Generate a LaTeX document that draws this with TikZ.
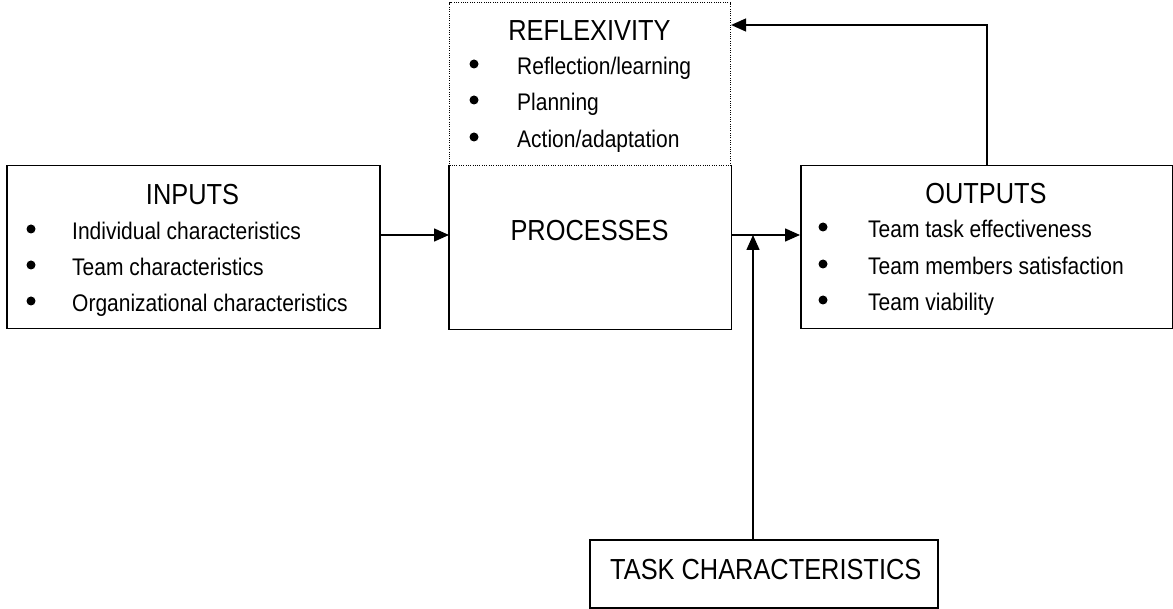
\documentclass[tikz,border=0pt]{standalone}
\usepackage{fontspec}
\setmainfont{Liberation Sans}[FakeStretch=0.875]
\usetikzlibrary{arrows.meta}

\tikzset{
  box/.style={draw, line width=1.5pt, anchor=north west, inner sep=0pt, rectangle},
  openbox/.style={anchor=north west, inner sep=0pt, outer sep=0.75pt, rectangle},
  dotbox/.style={draw, line width=1.1pt, dash pattern=on 1pt off 1.3pt,
                 anchor=north west, inner sep=0pt, rectangle},
  head/.style={font=\fontsize{29}{33}\selectfont, inner sep=0pt, anchor=base},
  itm/.style={font=\fontsize{24}{28}\selectfont, inner sep=0pt, anchor=base west},
  dot/.style={circle, fill, inner sep=0pt, minimum size=9pt},
  arr/.style={line width=1.5pt, -{Triangle[length=15pt,width=13pt]}},
  link/.style={line width=1.5pt}
}

\begin{document}
\begin{tikzpicture}[x=1pt, y=-1pt]
\useasboundingbox[fill=white] (0,0) rectangle (1173,609);

% boxes
\node[box, minimum width=373pt, minimum height=163pt] (in) at (6,165) {};
\node[openbox, minimum width=281pt, minimum height=163pt] (proc) at (449,165) {};
\draw[link] (proc.north west) -- (proc.south west) -- (proc.south east) -- (proc.north east);
\node[dotbox, minimum width=281pt, minimum height=163pt] (refl) at (449,2) {};
\node[box, minimum width=372pt, minimum height=163pt] (out) at (800,165) {};
\node[box, minimum width=348pt, minimum height=68pt] (task) at (589,539) {};

% INPUTS
\node[head] (inH) at (192.5,205) {INPUTS};
\node[dot] (inB1) at (31,229) {};
\node[dot] (inB2) at (31,265) {};
\node[dot] (inB3) at (31,301) {};
\node[itm] (in1) at (72,240) {Individual characteristics};
\node[itm] (in2) at (72,276) {Team characteristics};
\node[itm] (in3) at (72,312) {Organizational characteristics};

% REFLEXIVITY
\node[head] (reH) at (589.5,41) {REFLEXIVITY};
\node[dot] (reB1) at (474,64) {};
\node[dot] (reB2) at (474,100) {};
\node[dot] (reB3) at (474,137) {};
\node[itm] (re1) at (517,75) {Reflection/learning};
\node[itm] (re2) at (517,111) {Planning};
\node[itm] (re3) at (517,148) {Action/adaptation};

% PROCESSES
\node[head] (prH) at (589.5,241) {PROCESSES};

% OUTPUTS
\node[head] (ouH) at (986,204) {OUTPUTS};
\node[dot] (ouB1) at (823,227) {};
\node[dot] (ouB2) at (823,264) {};
\node[dot] (ouB3) at (823,300) {};
\node[itm] (ou1) at (868,238) {Team task effectiveness};
\node[itm] (ou2) at (868,275) {Team members satisfaction};
\node[itm] (ou3) at (868,311) {Team viability};

% TASK CHARACTERISTICS
\node[head, anchor=base west] (taH) at (610,579) {TASK CHARACTERISTICS};

% connectors
\coordinate (j) at (753,235);
\coordinate (fb) at (987,25);
\draw[arr] (in.east |- j) -- (proc.west |- j);
\draw[arr] (proc.east |- j) -- (out.west |- j);
\draw[arr] (task.north -| j) -- (j);
\draw[arr] (out.north -| fb) -- (fb) -- (refl.east |- fb);
\end{tikzpicture}
\end{document}
